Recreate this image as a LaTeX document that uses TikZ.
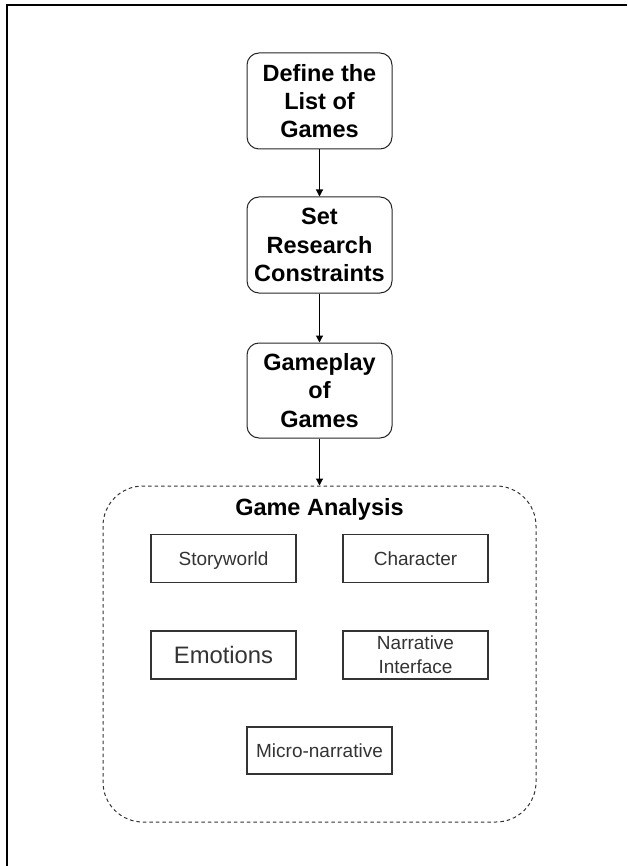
\documentclass[tikz,border=0pt]{standalone}
\usepackage{fontspec}
\setmainfont{Liberation Sans}
\usetikzlibrary{arrows.meta}
\begin{document}
\begin{tikzpicture}[x=1pt,y=-1pt,
  stepbox/.style={draw=black!85, line width=1pt, rounded corners=12pt, minimum width=145pt, minimum height=96pt, inner sep=0pt, align=center, font=\bfseries\fontsize{23.5}{28.2}\selectfont},
  itembox/.style={draw=black!80, line width=1.2pt, minimum width=145pt, minimum height=48pt, inner sep=0pt, align=center, text=black!80, font=\fontsize{19}{24}\selectfont},
  oneline/.style={text height=17.6pt, text depth=4pt},
  groupbox/.style={draw=black!80, line width=1pt, dash pattern=on 3.5pt off 3pt, rounded corners=40pt, minimum width=433pt, minimum height=336pt, inner sep=0pt},
  titletext/.style={inner sep=0pt, font=\bfseries\fontsize{23.5}{28.2}\selectfont},
  conn/.style={-{Triangle[length=7pt,width=7pt]}, line width=1.1pt}]
\useasboundingbox (0,0) rectangle (627,866);
\draw[line width=2pt] (6.5,866) -- (6.5,5.5) -- (627,5.5);
\node[stepbox] (define) at (319.5,101) {Define the\\List of\\Games};
\node[stepbox] (set) at (319.5,245) {Set\\Research\\Constraints};
\node[stepbox, minimum height=95pt] (play) at (319.5,390.5) {Gameplay\\of\\Games};
\node[groupbox] (ana) at (319.5,654) {};
\node[titletext] (title) at (319.5,509) {Game Analysis};
\node[itembox, oneline] (story) at (223.5,558.5) {Storyworld};
\node[itembox, oneline] (char) at (415.5,558.5) {Character};
\node[itembox, text height=21pt, text depth=4pt, font=\fontsize{23.8}{28}\selectfont] (emo) at (223.5,655) {Emotions};
\node[itembox] (narr) at (415.5,655) {Narrative\\Interface};
\node[itembox, oneline, minimum height=47pt] (micro) at (319.5,750.5) {Micro-narrative};
\draw[conn] (define) -- (set);
\draw[conn] (set) -- (play);
\draw[conn] (play) -- (ana);
\end{tikzpicture}
\end{document}
